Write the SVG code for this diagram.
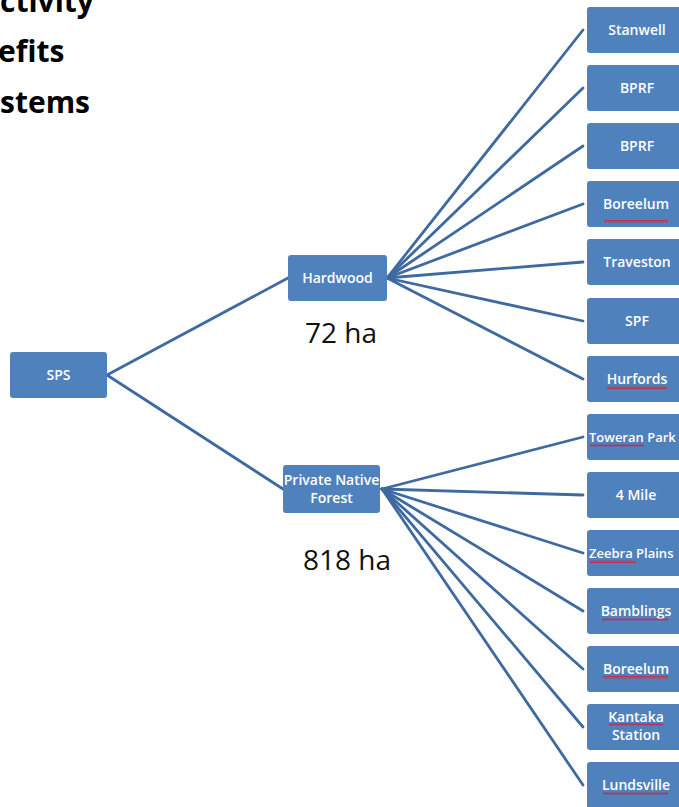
<svg xmlns="http://www.w3.org/2000/svg" width="679" height="807" viewBox="0 0 679 807">
<defs>
<style>
.box{fill:#4F81BD;}
.lbl{fill:#FFFFFF;font-family:"Open Sans","Liberation Sans",sans-serif;font-size:14px;font-weight:600;text-anchor:middle;}
.conn{stroke:#3F6AA0;stroke-width:2.8;fill:none;stroke-linecap:round;}
.head{fill:#000;font-family:"Open Sans","Liberation Sans",sans-serif;font-size:30px;font-weight:bold;}
.area{fill:#111;font-family:"Open Sans","Liberation Sans",sans-serif;font-size:28px;text-anchor:middle;}
.sq{fill:url(#squig);}
</style>
<pattern id="squig" x="0" y="0" width="4" height="3" patternUnits="userSpaceOnUse">
<path d="M0,2.5 L1,0.5 L2,2.5 L3,0.5 L4,2.5" stroke="#D0203A" stroke-width="0.8" fill="none"/>
</pattern>
</defs>
<rect width="679" height="807" fill="#FFFFFF"/>
<g id="title">
<text class="head" x="0" y="12">ctivity</text>
<text class="head" x="-2" y="62">efits</text>
<text class="head" x="0" y="113">stems</text>
</g>
<g id="connectors">
<path class="conn" d="M107,375 L288,278"/>
<path class="conn" d="M107,375 L283,489"/>
<path class="conn" d="M387,278 L583,30"/>
<path class="conn" d="M387,278 L583,88"/>
<path class="conn" d="M387,278 L583,146"/>
<path class="conn" d="M387,278 L583,204"/>
<path class="conn" d="M387,278 L583,262"/>
<path class="conn" d="M387,278 L583,321"/>
<path class="conn" d="M387,278 L583,379"/>
<path class="conn" d="M382,489 L583,437"/>
<path class="conn" d="M382,489 L583,495"/>
<path class="conn" d="M382,489 L583,553"/>
<path class="conn" d="M382,489 L583,611"/>
<path class="conn" d="M382,489 L583,669"/>
<path class="conn" d="M382,489 L583,727"/>
<path class="conn" d="M382,489 L583,785"/>
</g>
<g id="sps"><rect class="box" x="10" y="352" width="97" height="46" rx="3"/><text class="lbl" x="58.5" y="380">SPS</text></g>
<g id="hardwood"><rect class="box" x="288" y="255" width="99" height="46" rx="3"/><text class="lbl" x="337.5" y="283">Hardwood</text></g>
<g id="pnf"><rect class="box" x="283" y="465" width="97" height="48" rx="3"/><text class="lbl" x="331.5" y="485">Private Native</text><text class="lbl" x="331.5" y="503">Forest</text></g>
<g id="area72"><text class="area" x="341" y="343">72 ha</text></g>
<g id="area818"><text class="area" x="347" y="570">818 ha</text></g>
<g id="stanwell"><rect class="box" x="587" y="7" width="100" height="46" rx="3"/><text class="lbl" x="637" y="35">Stanwell</text></g>
<g id="bprf1"><rect class="box" x="587" y="65" width="100" height="46" rx="3"/><text class="lbl" x="637" y="93">BPRF</text></g>
<g id="bprf2"><rect class="box" x="587" y="123" width="100" height="46" rx="3"/><text class="lbl" x="637" y="151">BPRF</text></g>
<g id="boreelum1"><rect class="box" x="587" y="181" width="100" height="46" rx="3"/><text class="lbl" x="636" y="209">Boreelum</text><rect class="sq" x="604" y="220" width="64" height="3"/></g>
<g id="traveston"><rect class="box" x="587" y="239" width="100" height="46" rx="3"/><text class="lbl" x="637" y="267">Traveston</text></g>
<g id="spf"><rect class="box" x="587" y="298" width="100" height="46" rx="3"/><text class="lbl" x="637" y="326">SPF</text></g>
<g id="hurfords"><rect class="box" x="587" y="356" width="100" height="46" rx="3"/><text class="lbl" x="637" y="384">Hurfords</text><rect class="sq" x="607" y="386" width="60" height="3"/></g>
<g id="toweran"><rect class="box" x="587" y="414" width="100" height="46" rx="3"/><text class="lbl" x="589" y="442" style="text-anchor:start;font-size:13px">Toweran Park</text><rect class="sq" x="590" y="444" width="54" height="3"/></g>
<g id="fourmile"><rect class="box" x="587" y="472" width="100" height="46" rx="3"/><text class="lbl" x="636" y="500">4 Mile</text></g>
<g id="zeebra"><rect class="box" x="587" y="530" width="100" height="46" rx="3"/><text class="lbl" x="589" y="558" style="text-anchor:start;font-size:13px">Zeebra Plains</text><rect class="sq" x="590" y="560" width="46" height="3"/></g>
<g id="bamblings"><rect class="box" x="587" y="588" width="100" height="46" rx="3"/><text class="lbl" x="636" y="616">Bamblings</text><rect class="sq" x="602" y="618" width="66" height="3"/></g>
<g id="boreelum2"><rect class="box" x="587" y="646" width="100" height="46" rx="3"/><text class="lbl" x="636" y="674">Boreelum</text><rect class="sq" x="603" y="676" width="65" height="3"/></g>
<g id="kantaka"><rect class="box" x="587" y="704" width="100" height="46" rx="3"/><text class="lbl" x="636" y="722">Kantaka</text><text class="lbl" x="636" y="740">Station</text><rect class="sq" x="609" y="723" width="54" height="3"/></g>
<g id="lundsville"><rect class="box" x="587" y="762" width="100" height="50" rx="3"/><text class="lbl" x="636" y="790">Lundsville</text><rect class="sq" x="603" y="792" width="65" height="3"/></g>
</svg>
